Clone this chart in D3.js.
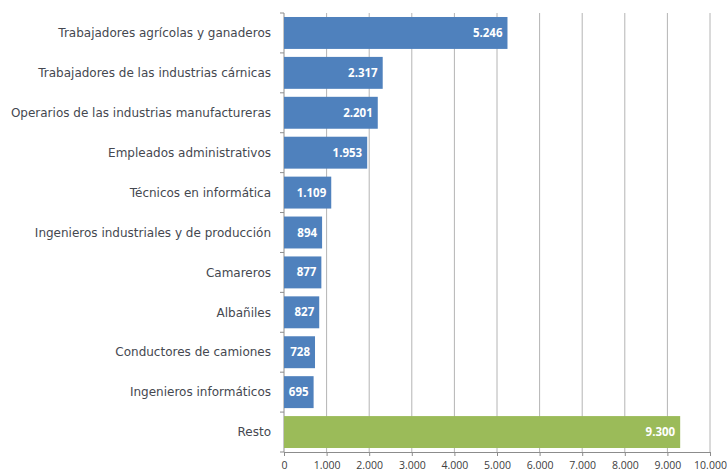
<!DOCTYPE html>
<html>
<head>
<meta charset="utf-8">
<script src="https://cdn.jsdelivr.net/npm/d3@7"></script>
<style>
  body { margin: 0; background: #fff; }
  .cat { font-family: "DejaVu Sans", sans-serif; font-size: 12px; fill: #454850; }
  .val { font-family: "Open Sans", "Liberation Sans", sans-serif; font-size: 11.5px; font-weight: bold; fill: #fff; }
  .tick text { font-family: "Open Sans", "Liberation Sans", sans-serif; font-size: 10.5px; fill: #404040; }
</style>
</head>
<body>
<svg width="727" height="472"></svg>
<script>
const categories = [
  "Trabajadores agrícolas y ganaderos",
  "Trabajadores de las industrias cárnicas",
  "Operarios de las industrias manufactureras",
  "Empleados administrativos",
  "Técnicos en informática",
  "Ingenieros industriales y de producción",
  "Camareros",
  "Albañiles",
  "Conductores de camiones",
  "Ingenieros informáticos",
  "Resto"
];
const values = [5246, 2317, 2201, 1953, 1109, 894, 877, 827, 728, 695, 9300];
const xTicks = [0, 1000, 2000, 3000, 4000, 5000, 6000, 7000, 8000, 9000, 10000];

const svg = d3.select("svg");
const margin = {top: 13, right: 17, bottom: 20, left: 284};
const width = +svg.attr("width") - margin.left - margin.right;
const height = +svg.attr("height") - margin.top - margin.bottom;
const g = svg.append("g").attr("transform", `translate(${margin.left},${margin.top})`);

const fmt = d3.formatLocale({decimal: ",", thousands: ".", grouping: [3]}).format(",");

const x = d3.scaleLinear().domain([0, 10000]).range([0, width]);
const y = d3.scaleBand().domain(categories).range([0, height]).paddingInner(0.2).paddingOuter(0.1);

// vertical gridlines
g.selectAll(".grid").data(xTicks.slice(1)).enter().append("line")
  .attr("x1", d => x(d)).attr("x2", d => x(d))
  .attr("y1", 0).attr("y2", height)
  .attr("stroke", "#b4b4b4").attr("stroke-width", 1);

// x axis
const xAxis = g.append("g")
  .attr("transform", `translate(0,${height})`)
  .call(d3.axisBottom(x).tickValues(xTicks).tickFormat(fmt).tickSize(4).tickPadding(6));
xAxis.selectAll("line, path").attr("stroke", "#8c8c8c");

// y axis with ticks at band boundaries
const yLine = g.append("g");
yLine.append("line").attr("x1", 0).attr("x2", 0).attr("y1", 0).attr("y2", height).attr("stroke", "#8c8c8c");
yLine.selectAll(".ytick").data(d3.range(categories.length + 1)).enter().append("line")
  .attr("x1", -4).attr("x2", 0)
  .attr("y1", i => i * height / categories.length).attr("y2", i => i * height / categories.length)
  .attr("stroke", "#8c8c8c");

// bars
g.selectAll(".bar").data(values).enter().append("rect")
  .attr("x", 0)
  .attr("y", (d, i) => y(categories[i]))
  .attr("width", d => x(d))
  .attr("height", y.bandwidth())
  .attr("fill", (d, i) => categories[i] === "Resto" ? "#9bbb59" : "#4f81bd");

// value labels
g.selectAll(".val").data(values).enter().append("text")
  .attr("class", "val")
  .attr("x", d => x(d) - 5)
  .attr("y", (d, i) => y(categories[i]) + y.bandwidth() / 2)
  .attr("dy", "0.35em")
  .attr("text-anchor", "end")
  .text(d => fmt(d));

// category labels
g.selectAll(".cat").data(categories).enter().append("text")
  .attr("class", "cat")
  .attr("x", -13)
  .attr("y", d => y(d) + y.bandwidth() / 2)
  .attr("dy", "0.35em")
  .attr("text-anchor", "end")
  .text(d => d);
</script>
</body>
</html>
